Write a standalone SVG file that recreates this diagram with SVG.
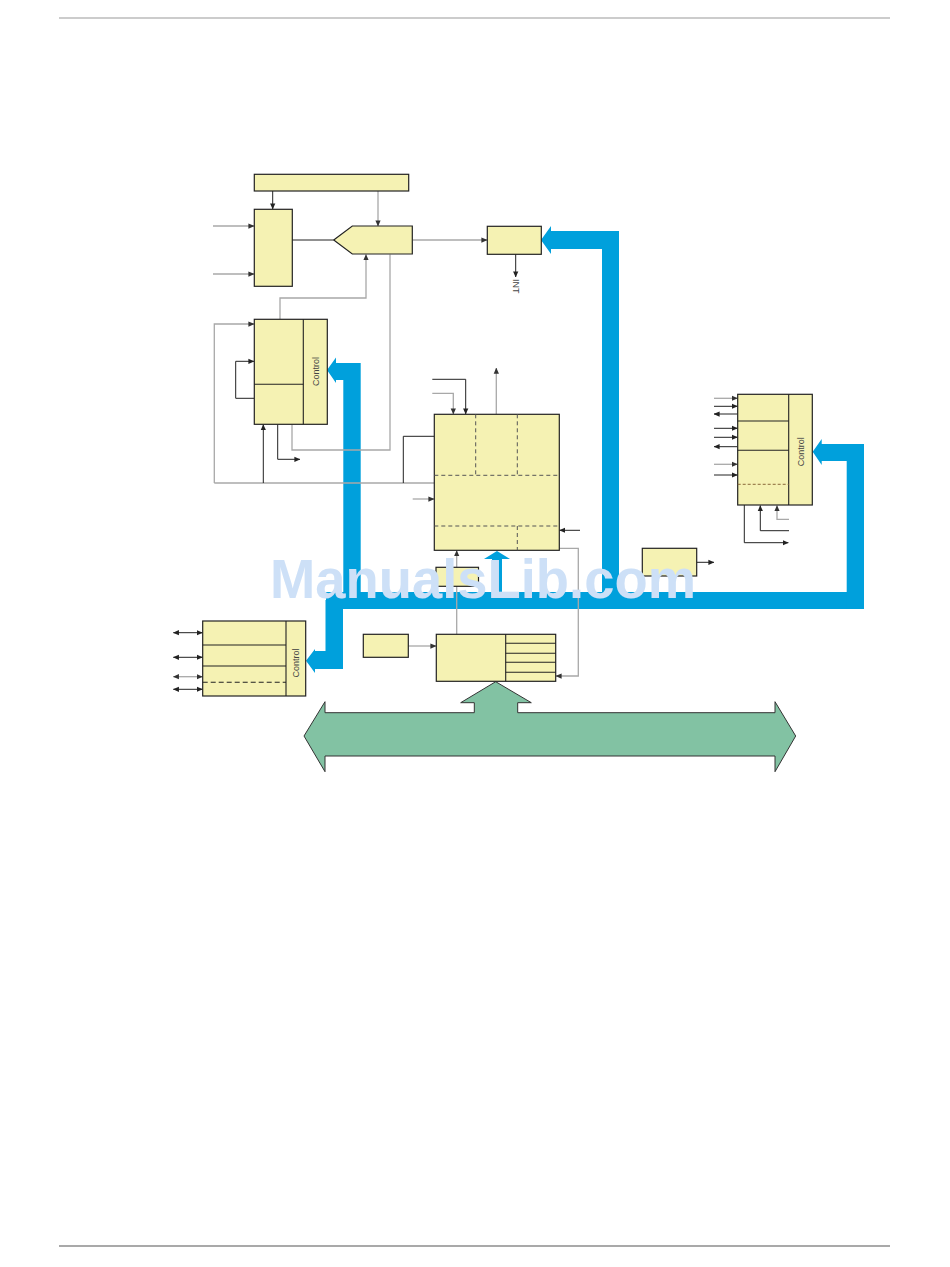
<svg xmlns="http://www.w3.org/2000/svg" width="950" height="1267" viewBox="0 0 950 1267">
<style>
.box{fill:#f5f2b3;stroke:#222;stroke-width:1.2}
.div{stroke:#222;stroke-width:1.1;fill:none}
.dash{stroke:#555;stroke-width:1;stroke-dasharray:4 3;fill:none}
.dashb{stroke:#222;stroke-width:1.1;stroke-dasharray:5 3;fill:none}
.k{stroke:#222;stroke-width:1;fill:none}
.g{stroke:#a8a8a8;stroke-width:1.3;fill:none}
.blue{fill:#00a0dc}
.lbl{font-family:"Liberation Sans",Arial,sans-serif;font-size:9px;fill:#444}
</style>
<defs>
<marker id="ak" viewBox="0 0 8 8" refX="7.5" refY="4" markerWidth="6" markerHeight="6" markerUnits="userSpaceOnUse" orient="auto-start-reverse"><path d="M0,0.5 L8,4 L0,7.5 Z" fill="#222"/></marker>
<marker id="ag" viewBox="0 0 8 8" refX="7.5" refY="4" markerWidth="6" markerHeight="6" markerUnits="userSpaceOnUse" orient="auto-start-reverse"><path d="M0,0.5 L8,4 L0,7.5 Z" fill="#333"/></marker>
</defs>
<line x1="59" y1="18" x2="890" y2="18" stroke="#999" stroke-width="1.2"/>
<line x1="59" y1="1246" x2="890" y2="1246" stroke="#555" stroke-width="1.2"/>

<g id="buses">
<polygon class="blue" points="541,240 551,226 551,231 619,231 619,600 602,600 602,249 551,249 551,254"/>
<polygon class="blue" points="327,370 336,357.5 336,363 360.7,363 360.7,600 343.3,600 343.3,380 336,380 336,383"/>
<rect class="blue" x="326" y="592" width="538" height="17"/>
<polygon class="blue" points="812.7,451.7 821.7,439 821.7,444 864,444 864,609 846.7,609 846.7,461 821.7,461 821.7,465"/>
<polygon class="blue" points="306,660.7 315,649 315,651 325.5,651 325.5,600 343,600 343,669 315,669 315,673"/>
<polygon class="blue" points="497,551 510,559 502,559 502,594 492,594 492,559 484,559"/>
<path d="M304,736 L325,701.7 L325,712.7 L474.3,712.7 L474.3,702.7 L460.7,702.7 L495.7,681.7 L531.3,702.7 L517.7,702.7 L517.7,712.7 L775,712.7 L775,701.7 L795.7,736 L775,771.7 L775,756 L325,756 L325,771.7 Z" fill="#82c2a3" stroke="#333" stroke-width="1"/>
</g>

<g id="connectors">
<line class="k" x1="272.7" y1="191" x2="272.7" y2="209" marker-end="url(#ak)" stroke="#aaa"/>
<line class="g" x1="378" y1="191" x2="378" y2="226" marker-end="url(#ag)"/>
<line class="g" x1="213" y1="226" x2="254" y2="226" marker-end="url(#ag)"/>
<line class="g" x1="213" y1="274" x2="254" y2="274" marker-end="url(#ag)"/>
<line class="k" x1="292" y1="240" x2="333.5" y2="240"/>
<line class="g" x1="412.5" y1="240" x2="487" y2="240" marker-end="url(#ag)"/>
<line class="k" x1="515.7" y1="254" x2="515.7" y2="277" marker-end="url(#ak)"/>
<polyline class="g" points="280,319 280,298 366,298 366,254.5" marker-end="url(#ag)"/>
<polyline class="g" points="390,254.5 390,450 292,450 292,424.5"/>
<polyline class="g" points="214.3,483 214.3,324 254,324" marker-end="url(#ag)"/>
<line class="g" x1="214.3" y1="483" x2="434.3" y2="483"/>
<polyline class="k" points="254,398.3 235.7,398.3 235.7,361.3 254,361.3" marker-end="url(#ak)"/>
<line class="k" x1="263.3" y1="483" x2="263.3" y2="424.5" marker-end="url(#ak)"/>
<polyline class="k" points="277.7,424.5 277.7,459.3 300,459.3" marker-end="url(#ak)"/>
<polyline class="k" points="434.3,436.3 403.3,436.3 403.3,483"/>
<polyline class="g" points="432.3,393.3 453.3,393.3 453.3,414" marker-end="url(#ag)"/>
<polyline class="k" points="432.3,379.3 465.7,379.3 465.7,414" marker-end="url(#ak)"/>
<line class="g" x1="496.3" y1="414" x2="496.3" y2="368" marker-end="url(#ag)"/>
<line class="g" x1="412.7" y1="499" x2="434" y2="499" marker-end="url(#ag)"/>
<line class="k" x1="580" y1="530.3" x2="559.5" y2="530.3" marker-end="url(#ak)"/>
<polyline class="g" points="559.5,548.3 578.3,548.3 578.3,676 556,676" marker-end="url(#ag)" stroke="#888"/>
<line class="g" x1="456.7" y1="634.3" x2="456.7" y2="550.5" marker-end="url(#ag)"/>
<line class="g" x1="408.3" y1="646" x2="436" y2="646" marker-end="url(#ag)" stroke="#888"/>
<line class="k" x1="696.7" y1="562.3" x2="714" y2="562.3" marker-end="url(#ak)"/>
<line class="g" x1="714" y1="398.3" x2="737.5" y2="398.3" marker-end="url(#ag)"/>
<line class="k" x1="714" y1="406.3" x2="737.5" y2="406.3" marker-end="url(#ak)"/>
<line class="k" x1="737.5" y1="414" x2="714" y2="414" marker-end="url(#ak)" stroke="#666"/>
<line class="k" x1="714" y1="428.3" x2="737.5" y2="428.3" marker-end="url(#ak)"/>
<line class="k" x1="714" y1="437.3" x2="737.5" y2="437.3" marker-end="url(#ak)" stroke="#666"/>
<line class="k" x1="737.5" y1="446.7" x2="714" y2="446.7" marker-end="url(#ak)" stroke="#666"/>
<line class="g" x1="714" y1="464.3" x2="737.5" y2="464.3" marker-end="url(#ag)" stroke="#888"/>
<line class="k" x1="714" y1="475" x2="737.5" y2="475" marker-end="url(#ak)"/>
<polyline class="k" points="744.3,505 744.3,542.7 788.3,542.7" marker-end="url(#ak)" stroke="#555"/>
<polyline class="k" points="789,530.7 760.3,530.7 760.3,505.5" marker-end="url(#ak)"/>
<polyline class="g" points="789,519.3 777,519.3 777,505.5" marker-end="url(#ag)"/>
<line class="k" x1="173.3" y1="632.7" x2="202.5" y2="632.7" marker-start="url(#ak)" marker-end="url(#ak)" stroke="#666"/>
<line class="k" x1="173.3" y1="657.3" x2="202.5" y2="657.3" marker-start="url(#ak)" marker-end="url(#ak)"/>
<line class="g" x1="173.3" y1="676.7" x2="202.5" y2="676.7" marker-start="url(#ag)" marker-end="url(#ag)"/>
<line class="k" x1="173.3" y1="689.3" x2="202.5" y2="689.3" marker-start="url(#ak)" marker-end="url(#ak)"/>
</g>

<g id="top-bar"><rect class="box" x="254.3" y="174.3" width="154.4" height="16.7"/></g>
<g id="left-selector"><rect class="box" x="254.3" y="209.3" width="38" height="77"/></g>
<g id="comparator"><polygon class="box" points="333.7,240 352.3,226 412.3,226 412.3,254 352.3,254"/></g>
<g id="int-box">
<rect class="box" x="487.3" y="226.3" width="54" height="28"/>
<text class="lbl" transform="translate(512.5,279) rotate(90)">INT</text>
</g>
<g id="left-control">
<rect class="box" x="254.3" y="319.3" width="73" height="105"/>
<line class="div" x1="303.3" y1="319.3" x2="303.3" y2="424.3"/>
<line class="div" x1="254.3" y1="384.3" x2="303.3" y2="384.3"/>
<text class="lbl" transform="translate(318.5,371.5) rotate(-90)" text-anchor="middle">Control</text>
</g>
<g id="center-block">
<rect class="box" x="434.3" y="414.3" width="125" height="136"/>
<line class="dash" x1="475.7" y1="414.3" x2="475.7" y2="475.3"/>
<line class="dash" x1="517.3" y1="414.3" x2="517.3" y2="475.3"/>
<line class="dash" x1="434.3" y1="475.3" x2="559.3" y2="475.3"/>
<line class="dash" x1="434.3" y1="526" x2="559.3" y2="526"/>
<line class="dash" x1="517.3" y1="526" x2="517.3" y2="550.3"/>
</g>
<g id="small-box"><rect class="box" x="436" y="567.3" width="42.5" height="19"/></g>
<g id="right-out-box"><rect class="box" x="642.3" y="548.3" width="54.4" height="27.7"/></g>
<g id="right-control">
<rect class="box" x="737.7" y="394.3" width="74.6" height="110.7"/>
<line class="div" x1="788.7" y1="394.3" x2="788.7" y2="505"/>
<line class="div" x1="737.7" y1="421" x2="788.7" y2="421"/>
<line class="div" x1="737.7" y1="450.3" x2="788.7" y2="450.3"/>
<line x1="737.7" y1="484.3" x2="788.7" y2="484.3" stroke="#8a6a3a" stroke-width="1" stroke-dasharray="3 2"/>
<text class="lbl" transform="translate(803.5,451.7) rotate(-90)" text-anchor="middle">Control</text>
</g>
<g id="bottom-left-control">
<rect class="box" x="202.7" y="621" width="103" height="75"/>
<line class="div" x1="286" y1="621" x2="286" y2="696"/>
<line class="div" x1="202.7" y1="645" x2="286" y2="645"/>
<line class="div" x1="202.7" y1="666" x2="286" y2="666"/>
<line class="dashb" x1="202.7" y1="682.3" x2="286" y2="682.3"/>
<text class="lbl" transform="translate(298.5,663) rotate(-90)" text-anchor="middle">Control</text>
</g>
<g id="bottom-left-small"><rect class="box" x="363.3" y="634.3" width="45" height="23"/></g>
<g id="bottom-center">
<rect class="box" x="436.3" y="634.3" width="119.4" height="47"/>
<line class="div" x1="505.7" y1="634.3" x2="505.7" y2="681.3"/>
<line class="div" x1="505.7" y1="643.3" x2="555.7" y2="643.3"/>
<line class="div" x1="505.7" y1="653.3" x2="555.7" y2="653.3"/>
<line class="div" x1="505.7" y1="662.3" x2="555.7" y2="662.3"/>
<line class="div" x1="505.7" y1="672.3" x2="555.7" y2="672.3"/>
</g>
<text x="270" y="598" font-family="Liberation Sans,Arial,sans-serif" font-weight="bold" font-size="55" fill="#cde0f7" textLength="426" lengthAdjust="spacingAndGlyphs">ManualsLib.com</text>
</svg>
